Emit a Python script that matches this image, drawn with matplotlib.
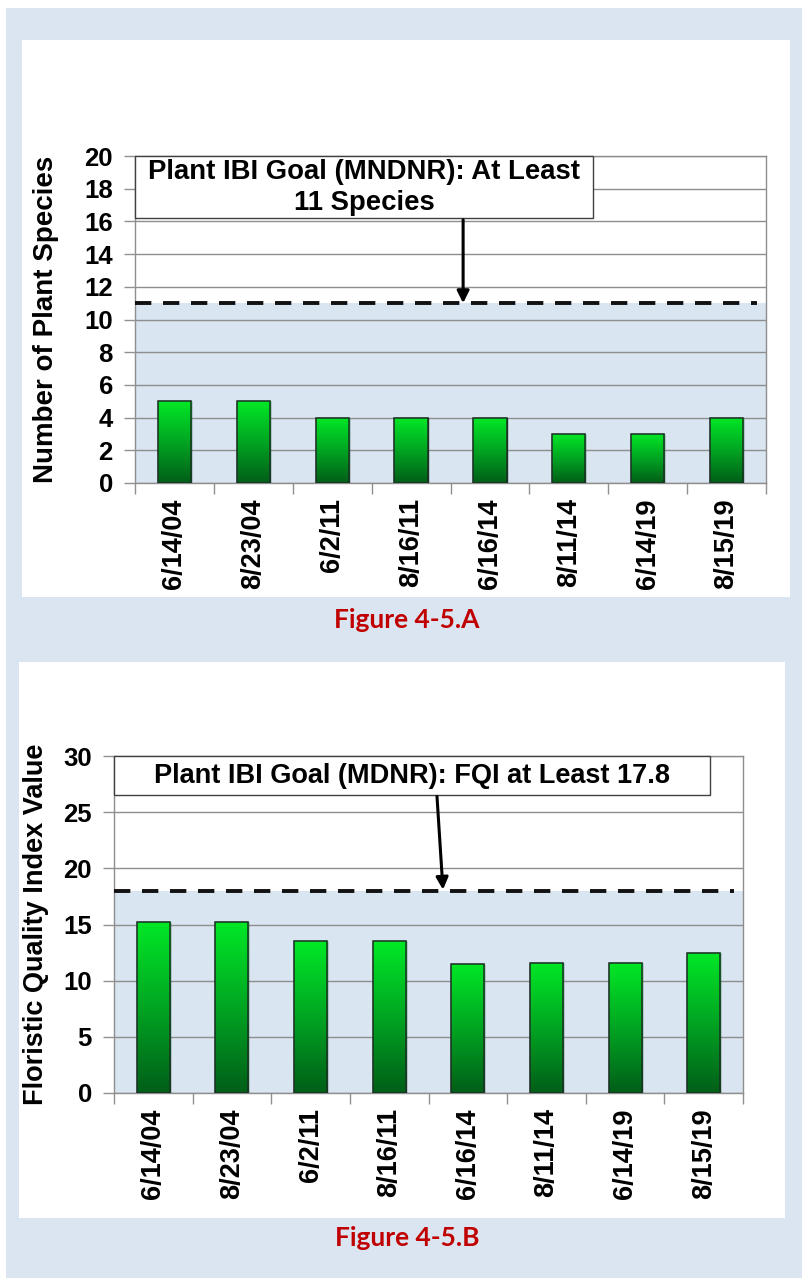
import numpy as np
import matplotlib
matplotlib.use("Agg")
import matplotlib.pyplot as plt
from matplotlib.patches import Rectangle
from matplotlib.colors import LinearSegmentedColormap

# data
dates = ["6/14/04", "8/23/04", "6/2/11", "8/16/11", "6/16/14", "8/11/14", "6/14/19", "8/15/19"]
species_counts = [5, 5, 4, 4, 4, 3, 3, 4]
fqi_values = [15.2, 15.2, 13.5, 13.5, 11.5, 11.6, 11.6, 12.5]
species_goal = 11
fqi_goal = 18
goal_text_a = "Plant IBI Goal (MNDNR): At Least\n11 Species"
goal_text_b = "Plant IBI Goal (MDNR): FQI at Least 17.8"

plt.rcParams["font.family"] = ["Liberation Sans", "DejaVu Sans"]
plt.rcParams["font.weight"] = "bold"

W, H = 802, 1278
fig = plt.figure(figsize=(W / 100, H / 100), dpi=100)
fig.patch.set_facecolor("white")

panel_blue = "#DBE5F1"
shade_blue = "#D9E5F0"
green_cmap = LinearSegmentedColormap.from_list("grn", ["#005E18", "#00A522", "#00E826"])


def px_rect(x0, y0, x1, y1, **kw):
    # rectangle given in pixel coords (top-left origin)
    r = Rectangle((x0 / W, 1 - y1 / H), (x1 - x0) / W, (y1 - y0) / H,
                  transform=fig.transFigure, **kw)
    fig.add_artist(r)
    return r


px_rect(6, 8, 802, 1278, facecolor=panel_blue, edgecolor="none", zorder=-3)
px_rect(22, 40, 790, 597, facecolor="white", edgecolor="none", zorder=-2)
px_rect(19, 662, 785, 1218, facecolor="white", edgecolor="none", zorder=-2)


def bar_chart(ax, values, ymax, ystep, goal, ylabel, ylabel_fs, ylabelpad, box_text,
              box_right, box_bottom, arrow_xy, arrow_tip, box_fs):
    x = np.arange(len(values))
    bars = ax.bar(x, values, width=0.42, facecolor="#00A522", edgecolor="#1C3024",
                  linewidth=1.0, zorder=3)
    grad = np.linspace(0, 1, 256).reshape(-1, 1)
    for b in bars:
        x0, w, h = b.get_x(), b.get_width(), b.get_height()
        im = ax.imshow(grad, cmap=green_cmap, origin="lower", aspect="auto",
                       extent=[x0, x0 + w, 0, h], zorder=3.5)
        im.set_clip_path(b)
        ax.add_patch(Rectangle((x0, 0), w, h, facecolor="none", edgecolor="#1C3024",
                               linewidth=1.1, zorder=4))

    ax.axhspan(0, goal, color=shade_blue, zorder=0.2, linewidth=0)
    ax.axhline(goal, xmin=0.0, xmax=0.985, color="#111111", linewidth=2.8,
               linestyle=(0, (4.2, 3.0)), zorder=5)

    ax.set_xlim(-0.5, len(values) - 0.5)
    ax.set_ylim(0, ymax)
    ax.set_yticks(np.arange(0, ymax + 0.1, ystep))
    ax.set_xticks(x)
    ax.set_xticklabels(dates, rotation=90, fontsize=19.5, fontweight="bold")
    ax.set_xticks(np.arange(-0.5, len(values)), minor=True)
    ax.tick_params(axis="x", which="major", length=0, pad=11)
    ax.tick_params(axis="x", which="minor", length=8, color="#909090", width=1)
    ax.tick_params(axis="y", length=8, color="#909090", width=1, labelsize=18.5, pad=8)
    for lab in ax.get_yticklabels():
        lab.set_fontweight("bold")
    ax.set_ylabel(ylabel, fontsize=ylabel_fs, fontweight="bold", labelpad=ylabelpad)

    ax.set_axisbelow(True)
    ax.yaxis.grid(True, color="#8E8E8E", linewidth=1.0)
    for s in ax.spines.values():
        s.set_color("#8E8E8E")
        s.set_linewidth(1.0)

    # goal text box
    ax.add_patch(Rectangle((0, box_bottom), box_right, ymax - box_bottom,
                           transform=ax.get_yaxis_transform(), facecolor="white",
                           edgecolor="#404040", linewidth=1.0, clip_on=False, zorder=6))
    ax.text(box_right / 2, (ymax + box_bottom) / 2, box_text,
            transform=ax.get_yaxis_transform(), ha="center", va="center",
            multialignment="center", fontsize=box_fs, fontweight="bold",
            linespacing=1.25, zorder=7)
    ax.annotate("", xy=arrow_tip, xytext=arrow_xy,
                xycoords=ax.get_yaxis_transform(), textcoords=ax.get_yaxis_transform(),
                arrowprops=dict(arrowstyle="-|>", color="black", lw=2.2,
                                mutation_scale=18, shrinkA=0, shrinkB=0), zorder=7)


ax1 = fig.add_axes([135 / W, 1 - 483 / H, (766 - 135) / W, (483 - 156) / H])
bar_chart(ax1, species_counts, 20, 2, species_goal, "Number of Plant Species", 20, 18,
          goal_text_a, 0.726, 16.2, (0.52, 16.1), (0.52, 11.0), 19.8)

ax2 = fig.add_axes([114 / W, 1 - 1093 / H, (743 - 114) / W, (1093 - 756) / H])
bar_chart(ax2, fqi_values, 30, 5, fqi_goal, "Floristic Quality Index Value", 19.5, 10,
          goal_text_b, 0.9475, 26.5, (0.5135, 26.4), (0.523, 18.1), 19.5)

fig.text(407 / W, 1 - 620 / H, "Figure 4-5.A", color="#C00000", fontsize=19,
         fontweight="bold", family=["Lato", "DejaVu Sans"], ha="center", va="center")
fig.text(407 / W, 1 - 1238 / H, "Figure 4-5.B", color="#C00000", fontsize=19,
         fontweight="bold", family=["Lato", "DejaVu Sans"], ha="center", va="center")

fig.savefig("out.png", dpi=100, facecolor=fig.get_facecolor())
